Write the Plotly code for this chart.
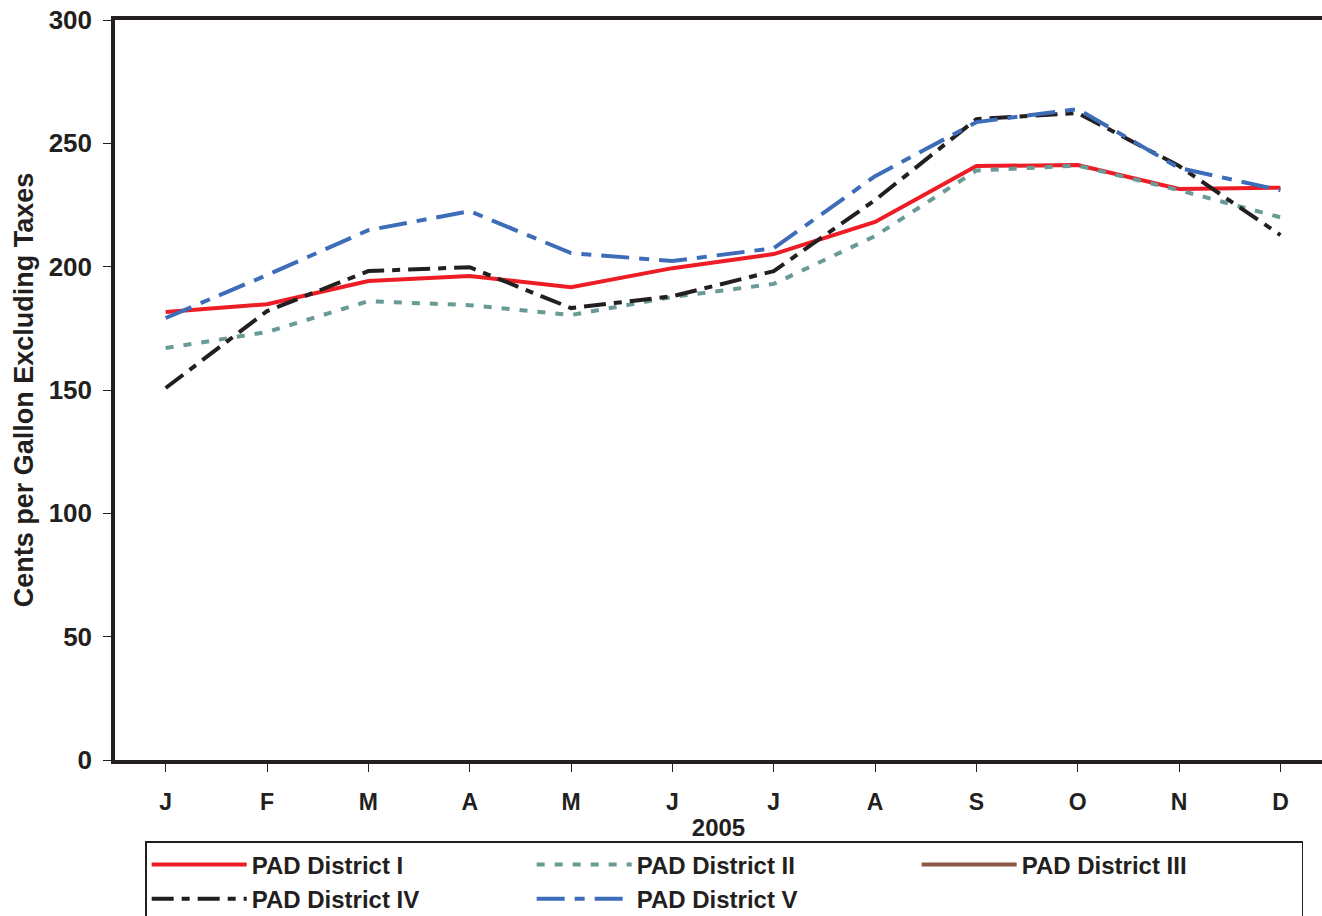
import plotly.graph_objects as go

months = ["J", "F", "M", "A", "M", "J", "J", "A", "S", "O", "N", "D"]
x_idx = list(range(12))

pad1 = [181.6, 184.8, 194.2, 196.2, 191.7, 199.4, 205.1, 218.1, 240.8, 241.2, 231.5, 232.0]
pad2 = [167.0, 173.5, 186.0, 184.4, 180.4, 187.7, 193.0, 212.4, 239.0, 241.0, 231.0, 220.0]
pad3 = [None] * 12
pad4 = [150.8, 182.0, 198.2, 199.8, 183.2, 188.0, 198.2, 227.0, 259.8, 262.3, 240.8, 212.8]
pad5 = [179.2, 196.6, 214.8, 222.5, 205.5, 202.3, 207.5, 236.7, 258.6, 263.9, 240.0, 231.0]

y_ticks = [0, 50, 100, 150, 200, 250, 300]

fam = "Liberation Sans, Arial"
ink = "#231f20"

series = [
    ("PAD District I", pad1, "#ee1c25", "solid"),
    ("PAD District II", pad2, "#689a96", "8px,10px"),
    ("PAD District III", pad3, "#8c5a44", "solid"),
    ("PAD District IV", pad4, ink, "22px,8px,8px,8px"),
    ("PAD District V", pad5, "#3d6cb9", "28px,10px,10px,10px"),
]

fig = go.Figure()
for name, vals, color, dash in series:
    fig.add_trace(go.Scatter(
        x=x_idx, y=vals, name=name, mode="lines",
        line=dict(color=color, width=4, dash=dash),
    ))

fig.update_layout(
    width=1322, height=916,
    margin=dict(l=115, r=0, t=20, b=156),
    plot_bgcolor="white", paper_bgcolor="white",
    font=dict(family=fam, color=ink),
    showlegend=True,
    legend=dict(
        orientation="h", xref="paper", x=0.025, xanchor="left",
        yref="container", y=1 - 841 / 916, yanchor="top",
        bordercolor=ink, borderwidth=1.5,
        entrywidth=275, entrywidthmode="pixels",
        font=dict(family=fam, size=24, color=ink, weight="bold"),
        itemwidth=95, tracegroupgap=0,
    ),
    xaxis=dict(
        tickmode="array", tickvals=x_idx, ticktext=months,
        range=[-0.5, 11.41], showgrid=False, zeroline=False, automargin=False,
        showline=True, linecolor=ink, linewidth=3.5, mirror=True,
        ticks="outside", tickson="boundaries", ticklen=8, tickcolor=ink,
        tickfont=dict(family=fam, size=23, color=ink, weight="bold"),
        ticklabelstandoff=11,
        title=dict(text="2005", font=dict(family=fam, size=24, color=ink, weight="bold"), standoff=7),
    ),
    yaxis=dict(
        range=[0, 300], tickvals=y_ticks, showgrid=False, zeroline=False, automargin=False,
        showline=True, linecolor=ink, linewidth=3.5,
        ticks="outside", ticklen=8, tickcolor=ink, ticklabelstandoff=6,
        tickfont=dict(family=fam, size=26, color=ink, weight="bold"),
        title=dict(text="Cents per Gallon Excluding Taxes",
                   font=dict(family=fam, size=27, color=ink, weight="bold"), standoff=8),
    ),
)

fig.write_html(
    "out.html",
    config={"displayModeBar": False},
    post_script="document.body.style.margin='0';document.body.style.overflow='hidden';",
)
